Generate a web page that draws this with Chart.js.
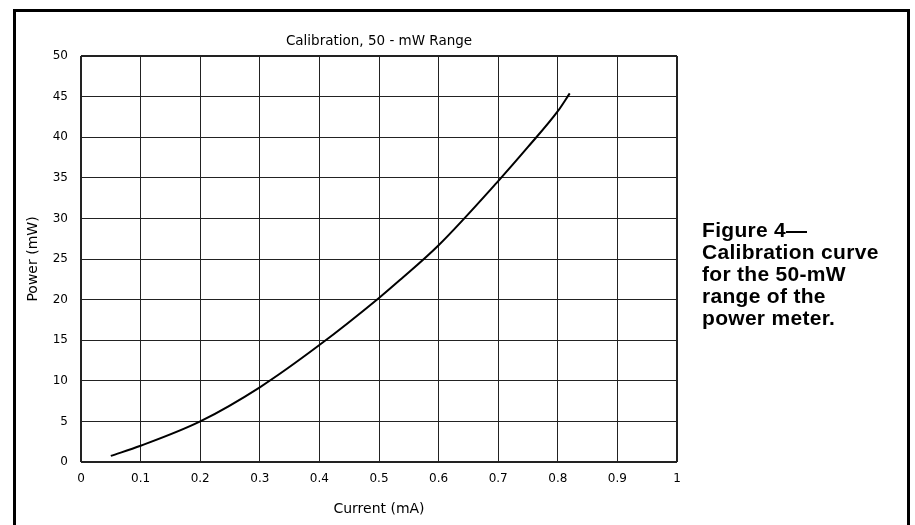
<!DOCTYPE html>
<html>
<head>
<meta charset="utf-8">
<script src="https://cdn.jsdelivr.net/npm/chart.js@4/dist/chart.umd.min.js"></script>
<style>
  html, body { margin: 0; padding: 0; background: #fff; overflow: hidden; }
  #wrap { position: relative; width: 915px; height: 525px; overflow: hidden; }
  #frame { position: absolute; left: 13px; top: 9px; width: 891px; height: 600px;
           border: 3px solid #000; box-sizing: content-box; }
  #c { position: absolute; left: 0; top: 0; }
  #caption { position: absolute; left: 702px; top: 219px; font-family: "Liberation Sans", Arial, sans-serif;
             font-weight: bold; font-size: 21px; line-height: 22px; color: #000; letter-spacing: 0.3px; }
</style>
</head>
<body>
<div id="wrap">
  <div id="frame"></div>
  <canvas id="c" width="915" height="525"></canvas>
  <div id="caption">Figure 4—<br>Calibration curve<br>for the 50-mW<br>range of the<br>power meter.</div>
</div>
<script>
const chartTitle = 'Calibration, 50 - mW Range';
const xAxisTitle = 'Current (mA)';
const yAxisTitle = 'Power (mW)';
const current = [0.05, 0.1, 0.2, 0.3, 0.4, 0.5, 0.535, 0.6, 0.7, 0.75, 0.8, 0.82];
const power   = [0.75, 2.0, 5.0, 9.2, 14.4, 20.2, 22.4, 26.7, 34.6, 38.8, 43.2, 45.4];
const xTickLabels = ['0', '0.1', '0.2', '0.3', '0.4', '0.5', '0.6', '0.7', '0.8', '0.9', '1'];
const yTickLabels = ['0', '5', '10', '15', '20', '25', '30', '35', '40', '45', '50'];

const points = current.map((x, i) => ({ x: x, y: power[i] }));
const tickFont = { family: 'DejaVu Sans', size: 12 };

new Chart(document.getElementById('c'), {
  type: 'line',
  data: {
    datasets: [{
      data: points,
      borderColor: '#000',
      borderWidth: 2,
      pointRadius: 0,
      fill: false,
      cubicInterpolationMode: 'monotone'
    }]
  },
  options: {
    responsive: false,
    devicePixelRatio: 1,
    animation: false,
    layout: { padding: { left: 0, right: 238, top: 0, bottom: 0 } },
    plugins: {
      legend: { display: false },
      tooltip: { enabled: false },
      title: {
        display: true,
        text: chartTitle,
        fullSize: false,
        color: '#000',
        font: { family: 'DejaVu Sans', size: 13.5, weight: 'normal', lineHeight: '14px' },
        padding: { top: 34, bottom: 8 }
      }
    },
    scales: {
      x: {
        type: 'linear',
        min: 0, max: 1,
        afterFit: s => { s.height = 63; },
        ticks: {
          stepSize: 0.1,
          color: '#000',
          font: tickFont,
          padding: 10,
          maxRotation: 0,
          callback: (v, i) => xTickLabels[i]
        },
        grid: {
          drawTicks: false,
          color: '#222',
          lineWidth: c => (c.index === 0 || c.index === xTickLabels.length - 1) ? 2 : 1
        },
        border: { display: false },
        title: {
          display: true, text: xAxisTitle, color: '#000',
          font: { family: 'DejaVu Sans', size: 14 },
          padding: { top: 0, bottom: 7 }
        }
      },
      y: {
        type: 'linear',
        min: 0, max: 50,
        afterFit: s => { s.width = 81; },
        ticks: {
          stepSize: 5,
          color: '#000',
          font: tickFont,
          padding: 13,
          callback: (v, i) => yTickLabels[i]
        },
        grid: {
          drawTicks: false,
          color: '#222',
          lineWidth: c => (c.index === 0 || c.index === yTickLabels.length - 1) ? 2 : 1
        },
        border: { display: false },
        title: {
          display: true, text: yAxisTitle, color: '#000',
          font: { family: 'DejaVu Sans', size: 14 },
          padding: { top: 25, bottom: 0 }
        }
      }
    }
  }
});
</script>
</body>
</html>
